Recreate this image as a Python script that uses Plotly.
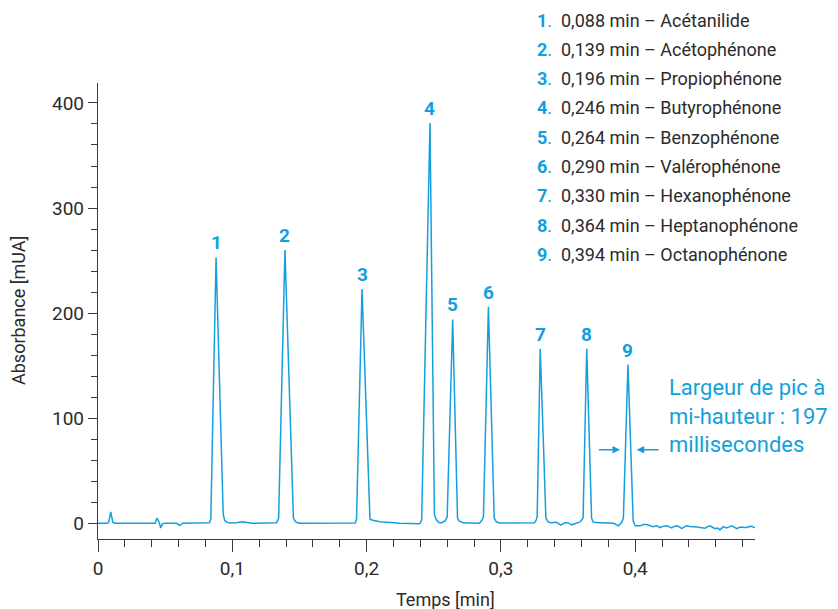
import plotly.graph_objects as go

# ---------------- data ----------------
time_min = [
    0.000, 0.0070, 0.0080, 0.0095, 0.0110, 0.0125, 0.0425, 0.0440, 0.0455, 0.0467,
    0.0480, 0.0500, 0.0585, 0.0610, 0.0630, 0.0830, 0.0840, 0.0879, 0.0932, 0.0942,
    0.0960, 0.0990, 0.1030, 0.1075, 0.1110, 0.1150, 0.1330, 0.1345, 0.1392, 0.1455,
    0.1470, 0.1495, 0.1915, 0.1925, 0.1966, 0.2025, 0.2045, 0.2100, 0.2250, 0.2370,
    0.2395, 0.2410, 0.2472, 0.2505, 0.2520, 0.2540, 0.2560, 0.2585, 0.2600, 0.2641,
    0.2677, 0.2690, 0.2720, 0.2840, 0.2860, 0.2870, 0.2907, 0.2950, 0.2965, 0.2985,
    0.3250, 0.3262, 0.3270, 0.3293, 0.3335, 0.3350, 0.3370, 0.3415, 0.3445, 0.3477,
    0.3500, 0.3527, 0.3560, 0.3590, 0.3612, 0.3639, 0.3675, 0.3685, 0.3700, 0.3810,
    0.3840, 0.3875, 0.3897, 0.3912, 0.3946, 0.3985, 0.4000, 0.4036, 0.4060, 0.4085,
    0.4110, 0.4135, 0.4160, 0.4185, 0.4210, 0.4235, 0.4255, 0.4272, 0.4290, 0.4310,
    0.4330, 0.4346, 0.4365, 0.4383, 0.4410, 0.4433, 0.4460, 0.4483, 0.4500, 0.4520,
    0.4540, 0.4557, 0.4575, 0.4594, 0.4615, 0.4631, 0.4656, 0.4681, 0.4700, 0.4718,
    0.4740, 0.4756, 0.4775, 0.4793, 0.4810, 0.4830, 0.4850, 0.4867, 0.4892,
]
absorbance_mau = [
    0.0, 0.0, 1.0, 10.8, 1.0, 0.0, 0.0, 5.0, 1.0, -4.5,
    -0.5, 0.0, 0.0, -2.0, 0.0, 0.5, 4.0, 253.0, 9.0, 3.0,
    0.8, 0.2, 0.5, 1.4, 0.8, 0.0, 0.5, 5.0, 260.0, 5.0,
    1.5, 0.0, 0.3, 4.0, 223.0, 4.0, 2.8, 1.5, 0.0, -1.0,
    -0.5, 3.0, 381.0, 8.0, 3.0, 0.5, 0.5, 2.5, 6.0, 194.0,
    5.0, 2.0, 0.4, 0.0, 3.0, 6.0, 206.0, 5.0, 1.5, 0.2,
    0.4, 3.0, 6.0, 166.0, 5.0, 1.5, 0.5, 1.0, -1.8, 0.5,
    0.5, -1.5, 0.3, 1.3, 5.0, 166.0, 5.0, 1.5, 0.6, 0.4,
    0.0, -2.5, 0.5, 5.0, 151.0, 2.0, -2.5, -2.5, -1.3, -1.3,
    -2.5, -3.2, -2.2, -4.1, -2.8, -2.5, -3.5, -4.4, -3.0, -2.5,
    -3.6, -5.1, -3.5, -2.5, -3.2, -3.2, -3.6, -4.1, -4.5, -4.8,
    -3.2, -2.5, -3.8, -5.1, -4.5, -6.3, -3.2, -4.4, -3.5, -2.5,
    -4.0, -5.1, -4.0, -3.5, -4.0, -4.1, -3.2, -2.9, -4.4,
]

peak_numbers = [1, 2, 3, 4, 5, 6, 7, 8, 9]
peak_times = [0.088, 0.139, 0.196, 0.246, 0.264, 0.290, 0.330, 0.364, 0.394]
peak_apex_times = [0.0879, 0.1392, 0.1966, 0.2472, 0.2641, 0.2907, 0.3293, 0.3639, 0.3946]
peak_heights = [253, 260, 223, 381, 194, 206, 166, 166, 151]
compounds = ["Acétanilide", "Acétophénone", "Propiophénone", "Butyrophénone",
             "Benzophénone", "Valérophénone", "Hexanophénone", "Heptanophénone",
             "Octanophénone"]

x_ticks = [0, 0.1, 0.2, 0.3, 0.4]
x_tick_labels = ["0", "0,1", "0,2", "0,3", "0,4"]
y_ticks = [0, 100, 200, 300, 400]

fwhm_arrow_y = 70
fwhm_left = [0.3718, 0.3887]   # tail, head
fwhm_right = [0.4185, 0.4011]  # tail, head
fwhm_text = "Largeur de pic à<br>mi-hauteur : 197<br>millisecondes"

# ---------------- style ----------------
BLUE = "#149fdc"
DARK = "#2b2b2b"
FONT = "Roboto, 'Liberation Sans', sans-serif"

# the page adds an 8 px body margin, so the figure is 8 px smaller
OFF = 8
W, H = 838 - OFF, 609 - OFF
L, R, T, B = 98 - OFF, 83, 83 - OFF, 70
PW, PH = W - L - R, H - T - B


def px_to_paper(px, py):
    fx, fy = px - OFF, py - OFF
    return (fx - L) / PW, (H - B - fy) / PH


fig = go.Figure()
fig.add_trace(go.Scatter(
    x=time_min, y=absorbance_mau, mode="lines",
    line=dict(color=BLUE, width=1.5), hoverinfo="skip", showlegend=False,
))

annotations = []
# peak labels
for n, t, h in zip(peak_numbers, peak_apex_times, peak_heights):
    annotations.append(dict(
        x=t, y=h, xref="x", yref="y", text=f"<b>{n}</b>", showarrow=False,
        xanchor="center", yanchor="bottom", yshift=1,
        font=dict(family=FONT, size=19, color=BLUE),
    ))

# legend list
for i, (n, t, c) in enumerate(zip(peak_numbers, peak_times, compounds)):
    xp, yp = px_to_paper(535, 20 + 29.3 * i)
    ts = f"{t:.3f}".replace(".", ",")
    annotations.append(dict(
        x=xp, y=yp, xref="paper", yref="paper", xanchor="left", yanchor="middle",
        showarrow=False, align="left",
        text=f"<span style='color:{BLUE}'><b>{n}</b>.</span>  {ts} min – {c}",
        font=dict(family=FONT, size=18, color=DARK),
    ))

# FWHM arrows and text
annotations.append(dict(x=fwhm_left[1], y=fwhm_arrow_y, ax=fwhm_left[0], ay=fwhm_arrow_y,
                        xref="x", yref="y", axref="x", ayref="y", showarrow=True,
                        arrowhead=2, arrowsize=1, arrowwidth=1.5, arrowcolor=BLUE, text=""))
annotations.append(dict(x=fwhm_right[1], y=fwhm_arrow_y, ax=fwhm_right[0], ay=fwhm_arrow_y,
                        xref="x", yref="y", axref="x", ayref="y", showarrow=True,
                        arrowhead=2, arrowsize=1, arrowwidth=1.5, arrowcolor=BLUE, text=""))
xp, yp = px_to_paper(667, 416)
annotations.append(dict(x=xp, y=yp, xref="paper", yref="paper", xanchor="left",
                        yanchor="middle", align="left", showarrow=False, text=fwhm_text,
                        font=dict(family=FONT, size=22, color=BLUE)))

# axis titles
xp, yp = px_to_paper(18, 311)
annotations.append(dict(x=xp, y=yp, xref="paper", yref="paper", textangle=-90,
                        xanchor="center", yanchor="middle",
                        showarrow=False, text="Absorbance [mUA]",
                        font=dict(family=FONT, size=18, color=DARK)))
xp, yp = px_to_paper(445, 599)
annotations.append(dict(x=xp, y=yp, xref="paper", yref="paper", showarrow=False,
                        xanchor="center", yanchor="middle",
                        text="Temps [min]", font=dict(family=FONT, size=18, color=DARK)))

fig.update_layout(
    width=W, height=H, margin=dict(l=L, r=R, t=T, b=B, autoexpand=False),
    paper_bgcolor="white", plot_bgcolor="white",
    separators=", ",
    font=dict(family=FONT, color=DARK),
    annotations=annotations,
)
fig.update_xaxes(
    range=[0, 0.4892], showgrid=False, zeroline=False,
    showline=True, linecolor="#3a3a3a", linewidth=1.3,
    tickmode="array", tickvals=x_ticks, ticktext=x_tick_labels,
    ticks="outside", ticklen=12, tickwidth=1.3, tickcolor="#3a3a3a",
    minor=dict(dtick=0.02, ticks="outside", ticklen=7, tickwidth=1.3, tickcolor="#3a3a3a"),
    tickfont=dict(family=FONT, size=19, color=DARK),
)
fig.update_yaxes(
    range=[-15, 419], showgrid=False, zeroline=False,
    showline=True, linecolor="#3a3a3a", linewidth=1.3,
    tickmode="array", tickvals=y_ticks,
    ticks="outside", ticklen=9, tickwidth=1.3, tickcolor="#3a3a3a",
    minor=dict(dtick=20, ticks="outside", ticklen=6, tickwidth=1.3, tickcolor="#3a3a3a"),
    tickfont=dict(family=FONT, size=19, color=DARK),
)

fig.write_html("out.html")
